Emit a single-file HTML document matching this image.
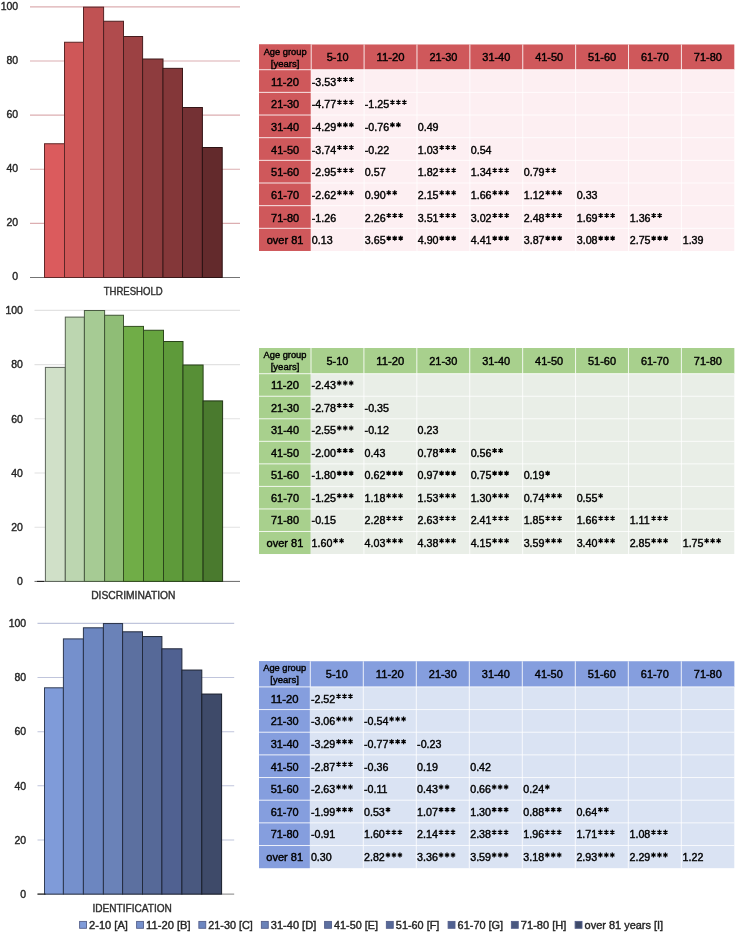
<!DOCTYPE html>
<html><head><meta charset="utf-8"><style>
html,body{margin:0;padding:0;background:#fff;}
svg{display:block;font-family:"Liberation Sans", sans-serif;will-change:transform;}
.t{fill:#000;stroke:#000;stroke-width:0.4px;}
</style></head><body>
<svg width="736" height="932" viewBox="0 0 736 932">
<line x1="30.00" y1="223.37" x2="240.00" y2="223.37" stroke="#dcaeb1" stroke-width="1.1"/>
<line x1="30.00" y1="169.25" x2="240.00" y2="169.25" stroke="#dcaeb1" stroke-width="1.1"/>
<line x1="30.00" y1="115.12" x2="240.00" y2="115.12" stroke="#dcaeb1" stroke-width="1.1"/>
<line x1="30.00" y1="61.00" x2="240.00" y2="61.00" stroke="#dcaeb1" stroke-width="1.1"/>
<line x1="30.00" y1="6.87" x2="240.00" y2="6.87" stroke="#dcaeb1" stroke-width="1.1"/>
<text x="18.20" y="280.40" font-size="10.7" text-anchor="end" fill="#262626" stroke="#262626" stroke-width="0.4" textLength="5.83" lengthAdjust="spacingAndGlyphs">0</text>
<text x="18.20" y="226.27" font-size="10.7" text-anchor="end" fill="#262626" stroke="#262626" stroke-width="0.4" textLength="11.66" lengthAdjust="spacingAndGlyphs">20</text>
<text x="18.20" y="172.15" font-size="10.7" text-anchor="end" fill="#262626" stroke="#262626" stroke-width="0.4" textLength="11.66" lengthAdjust="spacingAndGlyphs">40</text>
<text x="18.20" y="118.02" font-size="10.7" text-anchor="end" fill="#262626" stroke="#262626" stroke-width="0.4" textLength="11.66" lengthAdjust="spacingAndGlyphs">60</text>
<text x="18.20" y="63.90" font-size="10.7" text-anchor="end" fill="#262626" stroke="#262626" stroke-width="0.4" textLength="11.66" lengthAdjust="spacingAndGlyphs">80</text>
<text x="18.20" y="9.77" font-size="10.7" text-anchor="end" fill="#262626" stroke="#262626" stroke-width="0.4" textLength="17.49" lengthAdjust="spacingAndGlyphs">100</text>
<line x1="30.00" y1="277.50" x2="240.00" y2="277.50" stroke="#747474" stroke-width="1"/>
<rect x="44.50" y="143.75" width="20.00" height="133.75" fill="#db5b5d" stroke="#622829" stroke-width="1"/>
<rect x="64.50" y="42.25" width="19.00" height="235.25" fill="#cf5758" stroke="#5d2727" stroke-width="1"/>
<rect x="83.50" y="7.15" width="20.10" height="270.35" fill="#c05253" stroke="#562425" stroke-width="1"/>
<rect x="103.60" y="21.25" width="19.90" height="256.25" fill="#b04b4d" stroke="#4f2122" stroke-width="1"/>
<rect x="123.50" y="36.50" width="19.10" height="241.00" fill="#9c4143" stroke="#461d1e" stroke-width="1"/>
<rect x="142.60" y="59.00" width="20.40" height="218.50" fill="#8e3c3e" stroke="#3f1b1b" stroke-width="1"/>
<rect x="163.00" y="68.35" width="19.50" height="209.15" fill="#843739" stroke="#3b1819" stroke-width="1"/>
<rect x="182.50" y="107.50" width="19.90" height="170.00" fill="#743134" stroke="#341617" stroke-width="1"/>
<rect x="202.40" y="147.50" width="19.80" height="130.00" fill="#632a2c" stroke="#2c1213" stroke-width="1"/>
<text x="133.20" y="295.00" font-size="10.7" text-anchor="middle" fill="#303030" stroke="#303030" stroke-width="0.4" textLength="59.06" lengthAdjust="spacingAndGlyphs">THRESHOLD</text>
<line x1="34.50" y1="527.20" x2="240.00" y2="527.20" stroke="#e2e2e2" stroke-width="1.1"/>
<line x1="34.50" y1="473.00" x2="240.00" y2="473.00" stroke="#e2e2e2" stroke-width="1.1"/>
<line x1="34.50" y1="418.80" x2="240.00" y2="418.80" stroke="#e2e2e2" stroke-width="1.1"/>
<line x1="34.50" y1="364.60" x2="240.00" y2="364.60" stroke="#e2e2e2" stroke-width="1.1"/>
<line x1="34.50" y1="310.40" x2="240.00" y2="310.40" stroke="#e2e2e2" stroke-width="1.1"/>
<text x="22.90" y="585.10" font-size="10.7" text-anchor="end" fill="#262626" stroke="#262626" stroke-width="0.4" textLength="5.83" lengthAdjust="spacingAndGlyphs">0</text>
<text x="22.90" y="530.90" font-size="10.7" text-anchor="end" fill="#262626" stroke="#262626" stroke-width="0.4" textLength="11.66" lengthAdjust="spacingAndGlyphs">20</text>
<text x="22.90" y="476.70" font-size="10.7" text-anchor="end" fill="#262626" stroke="#262626" stroke-width="0.4" textLength="11.66" lengthAdjust="spacingAndGlyphs">40</text>
<text x="22.90" y="422.50" font-size="10.7" text-anchor="end" fill="#262626" stroke="#262626" stroke-width="0.4" textLength="11.66" lengthAdjust="spacingAndGlyphs">60</text>
<text x="22.90" y="368.30" font-size="10.7" text-anchor="end" fill="#262626" stroke="#262626" stroke-width="0.4" textLength="11.66" lengthAdjust="spacingAndGlyphs">80</text>
<text x="22.90" y="314.10" font-size="10.7" text-anchor="end" fill="#262626" stroke="#262626" stroke-width="0.4" textLength="17.49" lengthAdjust="spacingAndGlyphs">100</text>
<line x1="34.50" y1="581.40" x2="240.00" y2="581.40" stroke="#666666" stroke-width="1"/>
<rect x="45.40" y="367.40" width="19.90" height="214.00" fill="#d0e0c8" stroke="#5d645a" stroke-width="1"/>
<rect x="65.30" y="317.10" width="19.10" height="264.30" fill="#bcd6b0" stroke="#54604f" stroke-width="1"/>
<rect x="84.40" y="310.50" width="20.20" height="270.90" fill="#a6cb94" stroke="#4a5b42" stroke-width="1"/>
<rect x="104.60" y="315.25" width="18.90" height="266.15" fill="#8fbd76" stroke="#405535" stroke-width="1"/>
<rect x="123.50" y="326.40" width="20.00" height="255.00" fill="#70ad47" stroke="#324d1f" stroke-width="1"/>
<rect x="143.50" y="330.25" width="20.00" height="251.15" fill="#66a43f" stroke="#2d491c" stroke-width="1"/>
<rect x="163.50" y="341.50" width="19.50" height="239.90" fill="#5e9a3a" stroke="#2a451a" stroke-width="1"/>
<rect x="183.00" y="365.00" width="20.10" height="216.40" fill="#578f36" stroke="#274018" stroke-width="1"/>
<rect x="203.10" y="400.90" width="19.50" height="180.50" fill="#4a7a2e" stroke="#213614" stroke-width="1"/>
<line x1="37.00" y1="581.40" x2="44.00" y2="581.40" stroke="#1a1a1a" stroke-width="1"/>
<text x="133.35" y="598.70" font-size="10.7" text-anchor="middle" fill="#303030" stroke="#303030" stroke-width="0.4" textLength="84.39" lengthAdjust="spacingAndGlyphs">DISCRIMINATION</text>
<line x1="37.50" y1="839.96" x2="234.20" y2="839.96" stroke="#c0c5dc" stroke-width="1.1"/>
<line x1="37.50" y1="785.82" x2="234.20" y2="785.82" stroke="#c0c5dc" stroke-width="1.1"/>
<line x1="37.50" y1="731.68" x2="234.20" y2="731.68" stroke="#c0c5dc" stroke-width="1.1"/>
<line x1="37.50" y1="677.54" x2="234.20" y2="677.54" stroke="#c0c5dc" stroke-width="1.1"/>
<line x1="37.50" y1="623.40" x2="234.20" y2="623.40" stroke="#c0c5dc" stroke-width="1.1"/>
<text x="26.20" y="897.80" font-size="10.7" text-anchor="end" fill="#262626" stroke="#262626" stroke-width="0.4" textLength="5.83" lengthAdjust="spacingAndGlyphs">0</text>
<text x="26.20" y="843.66" font-size="10.7" text-anchor="end" fill="#262626" stroke="#262626" stroke-width="0.4" textLength="11.66" lengthAdjust="spacingAndGlyphs">20</text>
<text x="26.20" y="789.52" font-size="10.7" text-anchor="end" fill="#262626" stroke="#262626" stroke-width="0.4" textLength="11.66" lengthAdjust="spacingAndGlyphs">40</text>
<text x="26.20" y="735.38" font-size="10.7" text-anchor="end" fill="#262626" stroke="#262626" stroke-width="0.4" textLength="11.66" lengthAdjust="spacingAndGlyphs">60</text>
<text x="26.20" y="681.24" font-size="10.7" text-anchor="end" fill="#262626" stroke="#262626" stroke-width="0.4" textLength="11.66" lengthAdjust="spacingAndGlyphs">80</text>
<text x="26.20" y="627.10" font-size="10.7" text-anchor="end" fill="#262626" stroke="#262626" stroke-width="0.4" textLength="17.49" lengthAdjust="spacingAndGlyphs">100</text>
<line x1="37.50" y1="894.10" x2="234.20" y2="894.10" stroke="#808080" stroke-width="1"/>
<rect x="44.50" y="687.80" width="18.90" height="206.30" fill="#7f9bd9" stroke="#323e56" stroke-width="1"/>
<rect x="63.40" y="638.90" width="20.00" height="255.20" fill="#7590cc" stroke="#2e3951" stroke-width="1"/>
<rect x="83.40" y="627.80" width="20.00" height="266.30" fill="#6c86c0" stroke="#2b354c" stroke-width="1"/>
<rect x="103.40" y="623.55" width="19.20" height="270.55" fill="#6a82b8" stroke="#2a3449" stroke-width="1"/>
<rect x="122.60" y="631.80" width="19.90" height="262.30" fill="#5c70a0" stroke="#242c40" stroke-width="1"/>
<rect x="142.50" y="636.55" width="19.40" height="257.55" fill="#566998" stroke="#222a3c" stroke-width="1"/>
<rect x="161.90" y="648.80" width="20.00" height="245.30" fill="#506191" stroke="#20263a" stroke-width="1"/>
<rect x="181.90" y="670.05" width="19.90" height="224.05" fill="#49587f" stroke="#1d2332" stroke-width="1"/>
<rect x="201.80" y="694.05" width="19.80" height="200.05" fill="#3e4a69" stroke="#181d2a" stroke-width="1"/>
<line x1="37.50" y1="894.10" x2="45.50" y2="894.10" stroke="#1a1a1a" stroke-width="1"/>
<text x="132.20" y="911.60" font-size="10.7" text-anchor="middle" fill="#303030" stroke="#303030" stroke-width="0.4" textLength="79.32" lengthAdjust="spacingAndGlyphs">IDENTIFICATION</text>
<rect x="259.00" y="44.50" width="475.30" height="206.48" fill="#fdeff2"/>
<rect x="259.00" y="44.50" width="475.30" height="25.20" fill="#cf585b"/>
<rect x="259.00" y="44.50" width="51.70" height="206.48" fill="#cf585b"/>
<rect x="259.00" y="69.20" width="52.20" height="1" fill="#fff" opacity="0.85"/>
<rect x="311.20" y="69.20" width="423.10" height="1" fill="#fff" opacity="0.85"/>
<rect x="259.00" y="91.86" width="52.20" height="1" fill="#fff" opacity="0.85"/>
<rect x="311.20" y="91.86" width="423.10" height="1" fill="#fff" opacity="0.8"/>
<rect x="259.00" y="114.52" width="52.20" height="1" fill="#fff" opacity="0.85"/>
<rect x="311.20" y="114.52" width="423.10" height="1" fill="#fff" opacity="0.8"/>
<rect x="259.00" y="137.18" width="52.20" height="1" fill="#fff" opacity="0.85"/>
<rect x="311.20" y="137.18" width="423.10" height="1" fill="#fff" opacity="0.8"/>
<rect x="259.00" y="159.84" width="52.20" height="1" fill="#fff" opacity="0.85"/>
<rect x="311.20" y="159.84" width="423.10" height="1" fill="#fff" opacity="0.8"/>
<rect x="259.00" y="182.50" width="52.20" height="1" fill="#fff" opacity="0.85"/>
<rect x="311.20" y="182.50" width="423.10" height="1" fill="#fff" opacity="0.8"/>
<rect x="259.00" y="205.16" width="52.20" height="1" fill="#fff" opacity="0.85"/>
<rect x="311.20" y="205.16" width="423.10" height="1" fill="#fff" opacity="0.8"/>
<rect x="259.00" y="227.82" width="52.20" height="1" fill="#fff" opacity="0.85"/>
<rect x="311.20" y="227.82" width="423.10" height="1" fill="#fff" opacity="0.8"/>
<rect x="310.70" y="44.50" width="1" height="25.20" fill="#fff" opacity="0.85"/>
<rect x="363.59" y="44.50" width="1" height="25.20" fill="#fff" opacity="0.85"/>
<rect x="363.59" y="69.70" width="1" height="181.28" fill="#fff" opacity="0.8"/>
<rect x="416.47" y="44.50" width="1" height="25.20" fill="#fff" opacity="0.85"/>
<rect x="416.47" y="69.70" width="1" height="181.28" fill="#fff" opacity="0.8"/>
<rect x="469.36" y="44.50" width="1" height="25.20" fill="#fff" opacity="0.85"/>
<rect x="469.36" y="69.70" width="1" height="181.28" fill="#fff" opacity="0.8"/>
<rect x="522.25" y="44.50" width="1" height="25.20" fill="#fff" opacity="0.85"/>
<rect x="522.25" y="69.70" width="1" height="181.28" fill="#fff" opacity="0.8"/>
<rect x="575.14" y="44.50" width="1" height="25.20" fill="#fff" opacity="0.85"/>
<rect x="575.14" y="69.70" width="1" height="181.28" fill="#fff" opacity="0.8"/>
<rect x="628.02" y="44.50" width="1" height="25.20" fill="#fff" opacity="0.85"/>
<rect x="628.02" y="69.70" width="1" height="181.28" fill="#fff" opacity="0.8"/>
<rect x="680.91" y="44.50" width="1" height="25.20" fill="#fff" opacity="0.85"/>
<rect x="680.91" y="69.70" width="1" height="181.28" fill="#fff" opacity="0.8"/>
<text x="337.64" y="60.90" font-size="10.7" text-anchor="middle" fill="#000" stroke="#000" stroke-width="0.4" textLength="21.92" lengthAdjust="spacingAndGlyphs">5-10</text>
<text x="390.53" y="60.90" font-size="10.7" text-anchor="middle" fill="#000" stroke="#000" stroke-width="0.4" textLength="28.00" lengthAdjust="spacingAndGlyphs">11-20</text>
<text x="443.42" y="60.90" font-size="10.7" text-anchor="middle" fill="#000" stroke="#000" stroke-width="0.4" textLength="28.00" lengthAdjust="spacingAndGlyphs">21-30</text>
<text x="496.31" y="60.90" font-size="10.7" text-anchor="middle" fill="#000" stroke="#000" stroke-width="0.4" textLength="28.00" lengthAdjust="spacingAndGlyphs">31-40</text>
<text x="549.19" y="60.90" font-size="10.7" text-anchor="middle" fill="#000" stroke="#000" stroke-width="0.4" textLength="28.00" lengthAdjust="spacingAndGlyphs">41-50</text>
<text x="602.08" y="60.90" font-size="10.7" text-anchor="middle" fill="#000" stroke="#000" stroke-width="0.4" textLength="28.00" lengthAdjust="spacingAndGlyphs">51-60</text>
<text x="654.97" y="60.90" font-size="10.7" text-anchor="middle" fill="#000" stroke="#000" stroke-width="0.4" textLength="28.00" lengthAdjust="spacingAndGlyphs">61-70</text>
<text x="707.86" y="60.90" font-size="10.7" text-anchor="middle" fill="#000" stroke="#000" stroke-width="0.4" textLength="28.00" lengthAdjust="spacingAndGlyphs">71-80</text>
<text x="285.10" y="54.50" font-size="9.3" text-anchor="middle" fill="#000" stroke="#000" stroke-width="0.4" textLength="42.95" lengthAdjust="spacingAndGlyphs">Age group</text>
<text x="285.10" y="66.50" font-size="9.3" text-anchor="middle" fill="#000" stroke="#000" stroke-width="0.4" textLength="28.59" lengthAdjust="spacingAndGlyphs">[years]</text>
<text x="285.10" y="85.73" font-size="10.7" text-anchor="middle" fill="#000" stroke="#000" stroke-width="0.4" textLength="28.00" lengthAdjust="spacingAndGlyphs">11-20</text>
<text x="311.80" y="85.73" font-size="10.7" class="t">-3.53</text>
<path d="M339.43 77.03V82.03M337.27 78.28L341.60 80.78M337.27 80.78L341.60 78.28" stroke="#000" stroke-width="1.25" fill="none"/>
<path d="M345.40 77.03V82.03M343.24 78.28L347.57 80.78M343.24 80.78L347.57 78.28" stroke="#000" stroke-width="1.25" fill="none"/>
<path d="M351.37 77.03V82.03M349.21 78.28L353.54 80.78M349.21 80.78L353.54 78.28" stroke="#000" stroke-width="1.25" fill="none"/>
<text x="285.10" y="108.39" font-size="10.7" text-anchor="middle" fill="#000" stroke="#000" stroke-width="0.4" textLength="28.00" lengthAdjust="spacingAndGlyphs">21-30</text>
<text x="311.80" y="108.39" font-size="10.7" class="t">-4.77</text>
<path d="M339.43 99.69V104.69M337.27 100.94L341.60 103.44M337.27 103.44L341.60 100.94" stroke="#000" stroke-width="1.25" fill="none"/>
<path d="M345.40 99.69V104.69M343.24 100.94L347.57 103.44M343.24 103.44L347.57 100.94" stroke="#000" stroke-width="1.25" fill="none"/>
<path d="M351.37 99.69V104.69M349.21 100.94L353.54 103.44M349.21 103.44L353.54 100.94" stroke="#000" stroke-width="1.25" fill="none"/>
<text x="364.79" y="108.39" font-size="10.7" class="t">-1.25</text>
<path d="M392.42 99.69V104.69M390.26 100.94L394.59 103.44M390.26 103.44L394.59 100.94" stroke="#000" stroke-width="1.25" fill="none"/>
<path d="M398.39 99.69V104.69M396.23 100.94L400.56 103.44M396.23 103.44L400.56 100.94" stroke="#000" stroke-width="1.25" fill="none"/>
<path d="M404.36 99.69V104.69M402.20 100.94L406.53 103.44M402.20 103.44L406.53 100.94" stroke="#000" stroke-width="1.25" fill="none"/>
<text x="285.10" y="131.05" font-size="10.7" text-anchor="middle" fill="#000" stroke="#000" stroke-width="0.4" textLength="28.00" lengthAdjust="spacingAndGlyphs">31-40</text>
<text x="311.80" y="131.05" font-size="10.7" class="t">-4.29</text>
<path d="M339.43 122.35V127.35M337.27 123.60L341.60 126.10M337.27 126.10L341.60 123.60" stroke="#000" stroke-width="1.25" fill="none"/>
<path d="M345.40 122.35V127.35M343.24 123.60L347.57 126.10M343.24 126.10L347.57 123.60" stroke="#000" stroke-width="1.25" fill="none"/>
<path d="M351.37 122.35V127.35M349.21 123.60L353.54 126.10M349.21 126.10L353.54 123.60" stroke="#000" stroke-width="1.25" fill="none"/>
<text x="364.79" y="131.05" font-size="10.7" class="t">-0.76</text>
<path d="M392.42 122.35V127.35M390.26 123.60L394.59 126.10M390.26 126.10L394.59 123.60" stroke="#000" stroke-width="1.25" fill="none"/>
<path d="M398.39 122.35V127.35M396.23 123.60L400.56 126.10M396.23 126.10L400.56 123.60" stroke="#000" stroke-width="1.25" fill="none"/>
<text x="417.77" y="131.05" font-size="10.7" class="t">0.49</text>
<text x="285.10" y="153.71" font-size="10.7" text-anchor="middle" fill="#000" stroke="#000" stroke-width="0.4" textLength="28.00" lengthAdjust="spacingAndGlyphs">41-50</text>
<text x="311.80" y="153.71" font-size="10.7" class="t">-3.74</text>
<path d="M339.43 145.01V150.01M337.27 146.26L341.60 148.76M337.27 148.76L341.60 146.26" stroke="#000" stroke-width="1.25" fill="none"/>
<path d="M345.40 145.01V150.01M343.24 146.26L347.57 148.76M343.24 148.76L347.57 146.26" stroke="#000" stroke-width="1.25" fill="none"/>
<path d="M351.37 145.01V150.01M349.21 146.26L353.54 148.76M349.21 148.76L353.54 146.26" stroke="#000" stroke-width="1.25" fill="none"/>
<text x="364.79" y="153.71" font-size="10.7" class="t">-0.22</text>
<text x="417.77" y="153.71" font-size="10.7" class="t">1.03</text>
<path d="M441.74 145.01V150.01M439.57 146.26L443.90 148.76M439.57 148.76L443.90 146.26" stroke="#000" stroke-width="1.25" fill="none"/>
<path d="M447.71 145.01V150.01M445.54 146.26L449.87 148.76M445.54 148.76L449.87 146.26" stroke="#000" stroke-width="1.25" fill="none"/>
<path d="M453.68 145.01V150.01M451.51 146.26L455.84 148.76M451.51 148.76L455.84 146.26" stroke="#000" stroke-width="1.25" fill="none"/>
<text x="470.76" y="153.71" font-size="10.7" class="t">0.54</text>
<text x="285.10" y="176.37" font-size="10.7" text-anchor="middle" fill="#000" stroke="#000" stroke-width="0.4" textLength="28.00" lengthAdjust="spacingAndGlyphs">51-60</text>
<text x="311.80" y="176.37" font-size="10.7" class="t">-2.95</text>
<path d="M339.43 167.67V172.67M337.27 168.92L341.60 171.42M337.27 171.42L341.60 168.92" stroke="#000" stroke-width="1.25" fill="none"/>
<path d="M345.40 167.67V172.67M343.24 168.92L347.57 171.42M343.24 171.42L347.57 168.92" stroke="#000" stroke-width="1.25" fill="none"/>
<path d="M351.37 167.67V172.67M349.21 168.92L353.54 171.42M349.21 171.42L353.54 168.92" stroke="#000" stroke-width="1.25" fill="none"/>
<text x="364.79" y="176.37" font-size="10.7" class="t">0.57</text>
<text x="417.77" y="176.37" font-size="10.7" class="t">1.82</text>
<path d="M441.74 167.67V172.67M439.57 168.92L443.90 171.42M439.57 171.42L443.90 168.92" stroke="#000" stroke-width="1.25" fill="none"/>
<path d="M447.71 167.67V172.67M445.54 168.92L449.87 171.42M445.54 171.42L449.87 168.92" stroke="#000" stroke-width="1.25" fill="none"/>
<path d="M453.68 167.67V172.67M451.51 168.92L455.84 171.42M451.51 171.42L455.84 168.92" stroke="#000" stroke-width="1.25" fill="none"/>
<text x="470.76" y="176.37" font-size="10.7" class="t">1.34</text>
<path d="M494.72 167.67V172.67M492.56 168.92L496.89 171.42M492.56 171.42L496.89 168.92" stroke="#000" stroke-width="1.25" fill="none"/>
<path d="M500.69 167.67V172.67M498.53 168.92L502.86 171.42M498.53 171.42L502.86 168.92" stroke="#000" stroke-width="1.25" fill="none"/>
<path d="M506.66 167.67V172.67M504.50 168.92L508.83 171.42M504.50 171.42L508.83 168.92" stroke="#000" stroke-width="1.25" fill="none"/>
<text x="523.75" y="176.37" font-size="10.7" class="t">0.79</text>
<path d="M547.71 167.67V172.67M545.55 168.92L549.88 171.42M545.55 171.42L549.88 168.92" stroke="#000" stroke-width="1.25" fill="none"/>
<path d="M553.68 167.67V172.67M551.52 168.92L555.85 171.42M551.52 171.42L555.85 168.92" stroke="#000" stroke-width="1.25" fill="none"/>
<text x="285.10" y="199.03" font-size="10.7" text-anchor="middle" fill="#000" stroke="#000" stroke-width="0.4" textLength="28.00" lengthAdjust="spacingAndGlyphs">61-70</text>
<text x="311.80" y="199.03" font-size="10.7" class="t">-2.62</text>
<path d="M339.43 190.33V195.33M337.27 191.58L341.60 194.08M337.27 194.08L341.60 191.58" stroke="#000" stroke-width="1.25" fill="none"/>
<path d="M345.40 190.33V195.33M343.24 191.58L347.57 194.08M343.24 194.08L347.57 191.58" stroke="#000" stroke-width="1.25" fill="none"/>
<path d="M351.37 190.33V195.33M349.21 191.58L353.54 194.08M349.21 194.08L353.54 191.58" stroke="#000" stroke-width="1.25" fill="none"/>
<text x="364.79" y="199.03" font-size="10.7" class="t">0.90</text>
<path d="M388.75 190.33V195.33M386.58 191.58L390.91 194.08M386.58 194.08L390.91 191.58" stroke="#000" stroke-width="1.25" fill="none"/>
<path d="M394.72 190.33V195.33M392.55 191.58L396.88 194.08M392.55 194.08L396.88 191.58" stroke="#000" stroke-width="1.25" fill="none"/>
<text x="417.77" y="199.03" font-size="10.7" class="t">2.15</text>
<path d="M441.74 190.33V195.33M439.57 191.58L443.90 194.08M439.57 194.08L443.90 191.58" stroke="#000" stroke-width="1.25" fill="none"/>
<path d="M447.71 190.33V195.33M445.54 191.58L449.87 194.08M445.54 194.08L449.87 191.58" stroke="#000" stroke-width="1.25" fill="none"/>
<path d="M453.68 190.33V195.33M451.51 191.58L455.84 194.08M451.51 194.08L455.84 191.58" stroke="#000" stroke-width="1.25" fill="none"/>
<text x="470.76" y="199.03" font-size="10.7" class="t">1.66</text>
<path d="M494.72 190.33V195.33M492.56 191.58L496.89 194.08M492.56 194.08L496.89 191.58" stroke="#000" stroke-width="1.25" fill="none"/>
<path d="M500.69 190.33V195.33M498.53 191.58L502.86 194.08M498.53 194.08L502.86 191.58" stroke="#000" stroke-width="1.25" fill="none"/>
<path d="M506.66 190.33V195.33M504.50 191.58L508.83 194.08M504.50 194.08L508.83 191.58" stroke="#000" stroke-width="1.25" fill="none"/>
<text x="523.75" y="199.03" font-size="10.7" class="t">1.12</text>
<path d="M547.71 190.33V195.33M545.55 191.58L549.88 194.08M545.55 194.08L549.88 191.58" stroke="#000" stroke-width="1.25" fill="none"/>
<path d="M553.68 190.33V195.33M551.52 191.58L555.85 194.08M551.52 194.08L555.85 191.58" stroke="#000" stroke-width="1.25" fill="none"/>
<path d="M559.65 190.33V195.33M557.49 191.58L561.82 194.08M557.49 194.08L561.82 191.58" stroke="#000" stroke-width="1.25" fill="none"/>
<text x="576.74" y="199.03" font-size="10.7" class="t">0.33</text>
<text x="285.10" y="221.69" font-size="10.7" text-anchor="middle" fill="#000" stroke="#000" stroke-width="0.4" textLength="28.00" lengthAdjust="spacingAndGlyphs">71-80</text>
<text x="311.80" y="221.69" font-size="10.7" class="t">-1.26</text>
<text x="364.79" y="221.69" font-size="10.7" class="t">2.26</text>
<path d="M388.75 212.99V217.99M386.58 214.24L390.91 216.74M386.58 216.74L390.91 214.24" stroke="#000" stroke-width="1.25" fill="none"/>
<path d="M394.72 212.99V217.99M392.55 214.24L396.88 216.74M392.55 216.74L396.88 214.24" stroke="#000" stroke-width="1.25" fill="none"/>
<path d="M400.69 212.99V217.99M398.52 214.24L402.85 216.74M398.52 216.74L402.85 214.24" stroke="#000" stroke-width="1.25" fill="none"/>
<text x="417.77" y="221.69" font-size="10.7" class="t">3.51</text>
<path d="M441.74 212.99V217.99M439.57 214.24L443.90 216.74M439.57 216.74L443.90 214.24" stroke="#000" stroke-width="1.25" fill="none"/>
<path d="M447.71 212.99V217.99M445.54 214.24L449.87 216.74M445.54 216.74L449.87 214.24" stroke="#000" stroke-width="1.25" fill="none"/>
<path d="M453.68 212.99V217.99M451.51 214.24L455.84 216.74M451.51 216.74L455.84 214.24" stroke="#000" stroke-width="1.25" fill="none"/>
<text x="470.76" y="221.69" font-size="10.7" class="t">3.02</text>
<path d="M494.72 212.99V217.99M492.56 214.24L496.89 216.74M492.56 216.74L496.89 214.24" stroke="#000" stroke-width="1.25" fill="none"/>
<path d="M500.69 212.99V217.99M498.53 214.24L502.86 216.74M498.53 216.74L502.86 214.24" stroke="#000" stroke-width="1.25" fill="none"/>
<path d="M506.66 212.99V217.99M504.50 214.24L508.83 216.74M504.50 216.74L508.83 214.24" stroke="#000" stroke-width="1.25" fill="none"/>
<text x="523.75" y="221.69" font-size="10.7" class="t">2.48</text>
<path d="M547.71 212.99V217.99M545.55 214.24L549.88 216.74M545.55 216.74L549.88 214.24" stroke="#000" stroke-width="1.25" fill="none"/>
<path d="M553.68 212.99V217.99M551.52 214.24L555.85 216.74M551.52 216.74L555.85 214.24" stroke="#000" stroke-width="1.25" fill="none"/>
<path d="M559.65 212.99V217.99M557.49 214.24L561.82 216.74M557.49 216.74L561.82 214.24" stroke="#000" stroke-width="1.25" fill="none"/>
<text x="576.74" y="221.69" font-size="10.7" class="t">1.69</text>
<path d="M600.70 212.99V217.99M598.53 214.24L602.86 216.74M598.53 216.74L602.86 214.24" stroke="#000" stroke-width="1.25" fill="none"/>
<path d="M606.67 212.99V217.99M604.50 214.24L608.83 216.74M604.50 216.74L608.83 214.24" stroke="#000" stroke-width="1.25" fill="none"/>
<path d="M612.64 212.99V217.99M610.47 214.24L614.80 216.74M610.47 216.74L614.80 214.24" stroke="#000" stroke-width="1.25" fill="none"/>
<text x="629.73" y="221.69" font-size="10.7" class="t">1.36</text>
<path d="M653.69 212.99V217.99M651.52 214.24L655.85 216.74M651.52 216.74L655.85 214.24" stroke="#000" stroke-width="1.25" fill="none"/>
<path d="M659.66 212.99V217.99M657.49 214.24L661.82 216.74M657.49 216.74L661.82 214.24" stroke="#000" stroke-width="1.25" fill="none"/>
<text x="285.10" y="244.35" font-size="10.7" text-anchor="middle" fill="#000" stroke="#000" stroke-width="0.4" textLength="36.79" lengthAdjust="spacingAndGlyphs">over 81</text>
<text x="311.80" y="244.35" font-size="10.7" class="t">0.13</text>
<text x="364.79" y="244.35" font-size="10.7" class="t">3.65</text>
<path d="M388.75 235.65V240.65M386.58 236.90L390.91 239.40M386.58 239.40L390.91 236.90" stroke="#000" stroke-width="1.25" fill="none"/>
<path d="M394.72 235.65V240.65M392.55 236.90L396.88 239.40M392.55 239.40L396.88 236.90" stroke="#000" stroke-width="1.25" fill="none"/>
<path d="M400.69 235.65V240.65M398.52 236.90L402.85 239.40M398.52 239.40L402.85 236.90" stroke="#000" stroke-width="1.25" fill="none"/>
<text x="417.77" y="244.35" font-size="10.7" class="t">4.90</text>
<path d="M441.74 235.65V240.65M439.57 236.90L443.90 239.40M439.57 239.40L443.90 236.90" stroke="#000" stroke-width="1.25" fill="none"/>
<path d="M447.71 235.65V240.65M445.54 236.90L449.87 239.40M445.54 239.40L449.87 236.90" stroke="#000" stroke-width="1.25" fill="none"/>
<path d="M453.68 235.65V240.65M451.51 236.90L455.84 239.40M451.51 239.40L455.84 236.90" stroke="#000" stroke-width="1.25" fill="none"/>
<text x="470.76" y="244.35" font-size="10.7" class="t">4.41</text>
<path d="M494.72 235.65V240.65M492.56 236.90L496.89 239.40M492.56 239.40L496.89 236.90" stroke="#000" stroke-width="1.25" fill="none"/>
<path d="M500.69 235.65V240.65M498.53 236.90L502.86 239.40M498.53 239.40L502.86 236.90" stroke="#000" stroke-width="1.25" fill="none"/>
<path d="M506.66 235.65V240.65M504.50 236.90L508.83 239.40M504.50 239.40L508.83 236.90" stroke="#000" stroke-width="1.25" fill="none"/>
<text x="523.75" y="244.35" font-size="10.7" class="t">3.87</text>
<path d="M547.71 235.65V240.65M545.55 236.90L549.88 239.40M545.55 239.40L549.88 236.90" stroke="#000" stroke-width="1.25" fill="none"/>
<path d="M553.68 235.65V240.65M551.52 236.90L555.85 239.40M551.52 239.40L555.85 236.90" stroke="#000" stroke-width="1.25" fill="none"/>
<path d="M559.65 235.65V240.65M557.49 236.90L561.82 239.40M557.49 239.40L561.82 236.90" stroke="#000" stroke-width="1.25" fill="none"/>
<text x="576.74" y="244.35" font-size="10.7" class="t">3.08</text>
<path d="M600.70 235.65V240.65M598.53 236.90L602.86 239.40M598.53 239.40L602.86 236.90" stroke="#000" stroke-width="1.25" fill="none"/>
<path d="M606.67 235.65V240.65M604.50 236.90L608.83 239.40M604.50 239.40L608.83 236.90" stroke="#000" stroke-width="1.25" fill="none"/>
<path d="M612.64 235.65V240.65M610.47 236.90L614.80 239.40M610.47 239.40L614.80 236.90" stroke="#000" stroke-width="1.25" fill="none"/>
<text x="629.73" y="244.35" font-size="10.7" class="t">2.75</text>
<path d="M653.69 235.65V240.65M651.52 236.90L655.85 239.40M651.52 239.40L655.85 236.90" stroke="#000" stroke-width="1.25" fill="none"/>
<path d="M659.66 235.65V240.65M657.49 236.90L661.82 239.40M657.49 239.40L661.82 236.90" stroke="#000" stroke-width="1.25" fill="none"/>
<path d="M665.63 235.65V240.65M663.46 236.90L667.79 239.40M663.46 239.40L667.79 236.90" stroke="#000" stroke-width="1.25" fill="none"/>
<text x="682.71" y="244.35" font-size="10.7" class="t">1.39</text>
<rect x="259.00" y="348.00" width="475.30" height="206.02" fill="#e9eee7"/>
<rect x="259.00" y="348.00" width="475.30" height="25.70" fill="#a8d08d"/>
<rect x="259.00" y="348.00" width="51.50" height="206.02" fill="#a8d08d"/>
<rect x="259.00" y="373.20" width="52.00" height="1" fill="#fff" opacity="0.85"/>
<rect x="311.00" y="373.20" width="423.30" height="1" fill="#fff" opacity="0.85"/>
<rect x="259.00" y="395.74" width="52.00" height="1" fill="#fff" opacity="0.85"/>
<rect x="311.00" y="395.74" width="423.30" height="1" fill="#fff" opacity="0.8"/>
<rect x="259.00" y="418.28" width="52.00" height="1" fill="#fff" opacity="0.85"/>
<rect x="311.00" y="418.28" width="423.30" height="1" fill="#fff" opacity="0.8"/>
<rect x="259.00" y="440.82" width="52.00" height="1" fill="#fff" opacity="0.85"/>
<rect x="311.00" y="440.82" width="423.30" height="1" fill="#fff" opacity="0.8"/>
<rect x="259.00" y="463.36" width="52.00" height="1" fill="#fff" opacity="0.85"/>
<rect x="311.00" y="463.36" width="423.30" height="1" fill="#fff" opacity="0.8"/>
<rect x="259.00" y="485.90" width="52.00" height="1" fill="#fff" opacity="0.85"/>
<rect x="311.00" y="485.90" width="423.30" height="1" fill="#fff" opacity="0.8"/>
<rect x="259.00" y="508.44" width="52.00" height="1" fill="#fff" opacity="0.85"/>
<rect x="311.00" y="508.44" width="423.30" height="1" fill="#fff" opacity="0.8"/>
<rect x="259.00" y="530.98" width="52.00" height="1" fill="#fff" opacity="0.85"/>
<rect x="311.00" y="530.98" width="423.30" height="1" fill="#fff" opacity="0.8"/>
<rect x="310.50" y="348.00" width="1" height="25.70" fill="#fff" opacity="0.85"/>
<rect x="363.41" y="348.00" width="1" height="25.70" fill="#fff" opacity="0.85"/>
<rect x="363.41" y="373.70" width="1" height="180.32" fill="#fff" opacity="0.8"/>
<rect x="416.32" y="348.00" width="1" height="25.70" fill="#fff" opacity="0.85"/>
<rect x="416.32" y="373.70" width="1" height="180.32" fill="#fff" opacity="0.8"/>
<rect x="469.24" y="348.00" width="1" height="25.70" fill="#fff" opacity="0.85"/>
<rect x="469.24" y="373.70" width="1" height="180.32" fill="#fff" opacity="0.8"/>
<rect x="522.15" y="348.00" width="1" height="25.70" fill="#fff" opacity="0.85"/>
<rect x="522.15" y="373.70" width="1" height="180.32" fill="#fff" opacity="0.8"/>
<rect x="575.06" y="348.00" width="1" height="25.70" fill="#fff" opacity="0.85"/>
<rect x="575.06" y="373.70" width="1" height="180.32" fill="#fff" opacity="0.8"/>
<rect x="627.97" y="348.00" width="1" height="25.70" fill="#fff" opacity="0.85"/>
<rect x="627.97" y="373.70" width="1" height="180.32" fill="#fff" opacity="0.8"/>
<rect x="680.89" y="348.00" width="1" height="25.70" fill="#fff" opacity="0.85"/>
<rect x="680.89" y="373.70" width="1" height="180.32" fill="#fff" opacity="0.8"/>
<text x="337.46" y="364.65" font-size="10.7" text-anchor="middle" fill="#000" stroke="#000" stroke-width="0.4" textLength="21.92" lengthAdjust="spacingAndGlyphs">5-10</text>
<text x="390.37" y="364.65" font-size="10.7" text-anchor="middle" fill="#000" stroke="#000" stroke-width="0.4" textLength="28.00" lengthAdjust="spacingAndGlyphs">11-20</text>
<text x="443.28" y="364.65" font-size="10.7" text-anchor="middle" fill="#000" stroke="#000" stroke-width="0.4" textLength="28.00" lengthAdjust="spacingAndGlyphs">21-30</text>
<text x="496.19" y="364.65" font-size="10.7" text-anchor="middle" fill="#000" stroke="#000" stroke-width="0.4" textLength="28.00" lengthAdjust="spacingAndGlyphs">31-40</text>
<text x="549.11" y="364.65" font-size="10.7" text-anchor="middle" fill="#000" stroke="#000" stroke-width="0.4" textLength="28.00" lengthAdjust="spacingAndGlyphs">41-50</text>
<text x="602.02" y="364.65" font-size="10.7" text-anchor="middle" fill="#000" stroke="#000" stroke-width="0.4" textLength="28.00" lengthAdjust="spacingAndGlyphs">51-60</text>
<text x="654.93" y="364.65" font-size="10.7" text-anchor="middle" fill="#000" stroke="#000" stroke-width="0.4" textLength="28.00" lengthAdjust="spacingAndGlyphs">61-70</text>
<text x="707.84" y="364.65" font-size="10.7" text-anchor="middle" fill="#000" stroke="#000" stroke-width="0.4" textLength="28.00" lengthAdjust="spacingAndGlyphs">71-80</text>
<text x="285.00" y="358.00" font-size="9.3" text-anchor="middle" fill="#000" stroke="#000" stroke-width="0.4" textLength="42.95" lengthAdjust="spacingAndGlyphs">Age group</text>
<text x="285.00" y="370.00" font-size="9.3" text-anchor="middle" fill="#000" stroke="#000" stroke-width="0.4" textLength="28.59" lengthAdjust="spacingAndGlyphs">[years]</text>
<text x="285.00" y="389.17" font-size="10.7" text-anchor="middle" fill="#000" stroke="#000" stroke-width="0.4" textLength="28.00" lengthAdjust="spacingAndGlyphs">11-20</text>
<text x="311.60" y="389.17" font-size="10.7" class="t">-2.43</text>
<path d="M339.23 380.47V385.47M337.07 381.72L341.40 384.22M337.07 384.22L341.40 381.72" stroke="#000" stroke-width="1.25" fill="none"/>
<path d="M345.20 380.47V385.47M343.04 381.72L347.37 384.22M343.04 384.22L347.37 381.72" stroke="#000" stroke-width="1.25" fill="none"/>
<path d="M351.17 380.47V385.47M349.01 381.72L353.34 384.22M349.01 384.22L353.34 381.72" stroke="#000" stroke-width="1.25" fill="none"/>
<text x="285.00" y="411.71" font-size="10.7" text-anchor="middle" fill="#000" stroke="#000" stroke-width="0.4" textLength="28.00" lengthAdjust="spacingAndGlyphs">21-30</text>
<text x="311.60" y="411.71" font-size="10.7" class="t">-2.78</text>
<path d="M339.23 403.01V408.01M337.07 404.26L341.40 406.76M337.07 406.76L341.40 404.26" stroke="#000" stroke-width="1.25" fill="none"/>
<path d="M345.20 403.01V408.01M343.04 404.26L347.37 406.76M343.04 406.76L347.37 404.26" stroke="#000" stroke-width="1.25" fill="none"/>
<path d="M351.17 403.01V408.01M349.01 404.26L353.34 406.76M349.01 406.76L353.34 404.26" stroke="#000" stroke-width="1.25" fill="none"/>
<text x="364.61" y="411.71" font-size="10.7" class="t">-0.35</text>
<text x="285.00" y="434.25" font-size="10.7" text-anchor="middle" fill="#000" stroke="#000" stroke-width="0.4" textLength="28.00" lengthAdjust="spacingAndGlyphs">31-40</text>
<text x="311.60" y="434.25" font-size="10.7" class="t">-2.55</text>
<path d="M339.23 425.55V430.55M337.07 426.80L341.40 429.30M337.07 429.30L341.40 426.80" stroke="#000" stroke-width="1.25" fill="none"/>
<path d="M345.20 425.55V430.55M343.04 426.80L347.37 429.30M343.04 429.30L347.37 426.80" stroke="#000" stroke-width="1.25" fill="none"/>
<path d="M351.17 425.55V430.55M349.01 426.80L353.34 429.30M349.01 429.30L353.34 426.80" stroke="#000" stroke-width="1.25" fill="none"/>
<text x="364.61" y="434.25" font-size="10.7" class="t">-0.12</text>
<text x="417.62" y="434.25" font-size="10.7" class="t">0.23</text>
<text x="285.00" y="456.79" font-size="10.7" text-anchor="middle" fill="#000" stroke="#000" stroke-width="0.4" textLength="28.00" lengthAdjust="spacingAndGlyphs">41-50</text>
<text x="311.60" y="456.79" font-size="10.7" class="t">-2.00</text>
<path d="M339.23 448.09V453.09M337.07 449.34L341.40 451.84M337.07 451.84L341.40 449.34" stroke="#000" stroke-width="1.25" fill="none"/>
<path d="M345.20 448.09V453.09M343.04 449.34L347.37 451.84M343.04 451.84L347.37 449.34" stroke="#000" stroke-width="1.25" fill="none"/>
<path d="M351.17 448.09V453.09M349.01 449.34L353.34 451.84M349.01 451.84L353.34 449.34" stroke="#000" stroke-width="1.25" fill="none"/>
<text x="364.61" y="456.79" font-size="10.7" class="t">0.43</text>
<text x="417.62" y="456.79" font-size="10.7" class="t">0.78</text>
<path d="M441.59 448.09V453.09M439.42 449.34L443.75 451.84M439.42 451.84L443.75 449.34" stroke="#000" stroke-width="1.25" fill="none"/>
<path d="M447.56 448.09V453.09M445.39 449.34L449.72 451.84M445.39 451.84L449.72 449.34" stroke="#000" stroke-width="1.25" fill="none"/>
<path d="M453.53 448.09V453.09M451.36 449.34L455.69 451.84M451.36 451.84L455.69 449.34" stroke="#000" stroke-width="1.25" fill="none"/>
<text x="470.64" y="456.79" font-size="10.7" class="t">0.56</text>
<path d="M494.60 448.09V453.09M492.43 449.34L496.76 451.84M492.43 451.84L496.76 449.34" stroke="#000" stroke-width="1.25" fill="none"/>
<path d="M500.57 448.09V453.09M498.40 449.34L502.73 451.84M498.40 451.84L502.73 449.34" stroke="#000" stroke-width="1.25" fill="none"/>
<text x="285.00" y="479.33" font-size="10.7" text-anchor="middle" fill="#000" stroke="#000" stroke-width="0.4" textLength="28.00" lengthAdjust="spacingAndGlyphs">51-60</text>
<text x="311.60" y="479.33" font-size="10.7" class="t">-1.80</text>
<path d="M339.23 470.63V475.63M337.07 471.88L341.40 474.38M337.07 474.38L341.40 471.88" stroke="#000" stroke-width="1.25" fill="none"/>
<path d="M345.20 470.63V475.63M343.04 471.88L347.37 474.38M343.04 474.38L347.37 471.88" stroke="#000" stroke-width="1.25" fill="none"/>
<path d="M351.17 470.63V475.63M349.01 471.88L353.34 474.38M349.01 474.38L353.34 471.88" stroke="#000" stroke-width="1.25" fill="none"/>
<text x="364.61" y="479.33" font-size="10.7" class="t">0.62</text>
<path d="M388.57 470.63V475.63M386.41 471.88L390.74 474.38M386.41 474.38L390.74 471.88" stroke="#000" stroke-width="1.25" fill="none"/>
<path d="M394.54 470.63V475.63M392.38 471.88L396.71 474.38M392.38 474.38L396.71 471.88" stroke="#000" stroke-width="1.25" fill="none"/>
<path d="M400.51 470.63V475.63M398.35 471.88L402.68 474.38M398.35 474.38L402.68 471.88" stroke="#000" stroke-width="1.25" fill="none"/>
<text x="417.62" y="479.33" font-size="10.7" class="t">0.97</text>
<path d="M441.59 470.63V475.63M439.42 471.88L443.75 474.38M439.42 474.38L443.75 471.88" stroke="#000" stroke-width="1.25" fill="none"/>
<path d="M447.56 470.63V475.63M445.39 471.88L449.72 474.38M445.39 474.38L449.72 471.88" stroke="#000" stroke-width="1.25" fill="none"/>
<path d="M453.53 470.63V475.63M451.36 471.88L455.69 474.38M451.36 474.38L455.69 471.88" stroke="#000" stroke-width="1.25" fill="none"/>
<text x="470.64" y="479.33" font-size="10.7" class="t">0.75</text>
<path d="M494.60 470.63V475.63M492.43 471.88L496.76 474.38M492.43 474.38L496.76 471.88" stroke="#000" stroke-width="1.25" fill="none"/>
<path d="M500.57 470.63V475.63M498.40 471.88L502.73 474.38M498.40 474.38L502.73 471.88" stroke="#000" stroke-width="1.25" fill="none"/>
<path d="M506.54 470.63V475.63M504.37 471.88L508.70 474.38M504.37 474.38L508.70 471.88" stroke="#000" stroke-width="1.25" fill="none"/>
<text x="523.65" y="479.33" font-size="10.7" class="t">0.19</text>
<path d="M547.61 470.63V475.63M545.45 471.88L549.78 474.38M545.45 474.38L549.78 471.88" stroke="#000" stroke-width="1.25" fill="none"/>
<text x="285.00" y="501.87" font-size="10.7" text-anchor="middle" fill="#000" stroke="#000" stroke-width="0.4" textLength="28.00" lengthAdjust="spacingAndGlyphs">61-70</text>
<text x="311.60" y="501.87" font-size="10.7" class="t">-1.25</text>
<path d="M339.23 493.17V498.17M337.07 494.42L341.40 496.92M337.07 496.92L341.40 494.42" stroke="#000" stroke-width="1.25" fill="none"/>
<path d="M345.20 493.17V498.17M343.04 494.42L347.37 496.92M343.04 496.92L347.37 494.42" stroke="#000" stroke-width="1.25" fill="none"/>
<path d="M351.17 493.17V498.17M349.01 494.42L353.34 496.92M349.01 496.92L353.34 494.42" stroke="#000" stroke-width="1.25" fill="none"/>
<text x="364.61" y="501.87" font-size="10.7" class="t">1.18</text>
<path d="M388.57 493.17V498.17M386.41 494.42L390.74 496.92M386.41 496.92L390.74 494.42" stroke="#000" stroke-width="1.25" fill="none"/>
<path d="M394.54 493.17V498.17M392.38 494.42L396.71 496.92M392.38 496.92L396.71 494.42" stroke="#000" stroke-width="1.25" fill="none"/>
<path d="M400.51 493.17V498.17M398.35 494.42L402.68 496.92M398.35 496.92L402.68 494.42" stroke="#000" stroke-width="1.25" fill="none"/>
<text x="417.62" y="501.87" font-size="10.7" class="t">1.53</text>
<path d="M441.59 493.17V498.17M439.42 494.42L443.75 496.92M439.42 496.92L443.75 494.42" stroke="#000" stroke-width="1.25" fill="none"/>
<path d="M447.56 493.17V498.17M445.39 494.42L449.72 496.92M445.39 496.92L449.72 494.42" stroke="#000" stroke-width="1.25" fill="none"/>
<path d="M453.53 493.17V498.17M451.36 494.42L455.69 496.92M451.36 496.92L455.69 494.42" stroke="#000" stroke-width="1.25" fill="none"/>
<text x="470.64" y="501.87" font-size="10.7" class="t">1.30</text>
<path d="M494.60 493.17V498.17M492.43 494.42L496.76 496.92M492.43 496.92L496.76 494.42" stroke="#000" stroke-width="1.25" fill="none"/>
<path d="M500.57 493.17V498.17M498.40 494.42L502.73 496.92M498.40 496.92L502.73 494.42" stroke="#000" stroke-width="1.25" fill="none"/>
<path d="M506.54 493.17V498.17M504.37 494.42L508.70 496.92M504.37 496.92L508.70 494.42" stroke="#000" stroke-width="1.25" fill="none"/>
<text x="523.65" y="501.87" font-size="10.7" class="t">0.74</text>
<path d="M547.61 493.17V498.17M545.45 494.42L549.78 496.92M545.45 496.92L549.78 494.42" stroke="#000" stroke-width="1.25" fill="none"/>
<path d="M553.58 493.17V498.17M551.42 494.42L555.75 496.92M551.42 496.92L555.75 494.42" stroke="#000" stroke-width="1.25" fill="none"/>
<path d="M559.55 493.17V498.17M557.39 494.42L561.72 496.92M557.39 496.92L561.72 494.42" stroke="#000" stroke-width="1.25" fill="none"/>
<text x="576.66" y="501.87" font-size="10.7" class="t">0.55</text>
<path d="M600.62 493.17V498.17M598.46 494.42L602.79 496.92M598.46 496.92L602.79 494.42" stroke="#000" stroke-width="1.25" fill="none"/>
<text x="285.00" y="524.41" font-size="10.7" text-anchor="middle" fill="#000" stroke="#000" stroke-width="0.4" textLength="28.00" lengthAdjust="spacingAndGlyphs">71-80</text>
<text x="311.60" y="524.41" font-size="10.7" class="t">-0.15</text>
<text x="364.61" y="524.41" font-size="10.7" class="t">2.28</text>
<path d="M388.57 515.71V520.71M386.41 516.96L390.74 519.46M386.41 519.46L390.74 516.96" stroke="#000" stroke-width="1.25" fill="none"/>
<path d="M394.54 515.71V520.71M392.38 516.96L396.71 519.46M392.38 519.46L396.71 516.96" stroke="#000" stroke-width="1.25" fill="none"/>
<path d="M400.51 515.71V520.71M398.35 516.96L402.68 519.46M398.35 519.46L402.68 516.96" stroke="#000" stroke-width="1.25" fill="none"/>
<text x="417.62" y="524.41" font-size="10.7" class="t">2.63</text>
<path d="M441.59 515.71V520.71M439.42 516.96L443.75 519.46M439.42 519.46L443.75 516.96" stroke="#000" stroke-width="1.25" fill="none"/>
<path d="M447.56 515.71V520.71M445.39 516.96L449.72 519.46M445.39 519.46L449.72 516.96" stroke="#000" stroke-width="1.25" fill="none"/>
<path d="M453.53 515.71V520.71M451.36 516.96L455.69 519.46M451.36 519.46L455.69 516.96" stroke="#000" stroke-width="1.25" fill="none"/>
<text x="470.64" y="524.41" font-size="10.7" class="t">2.41</text>
<path d="M494.60 515.71V520.71M492.43 516.96L496.76 519.46M492.43 519.46L496.76 516.96" stroke="#000" stroke-width="1.25" fill="none"/>
<path d="M500.57 515.71V520.71M498.40 516.96L502.73 519.46M498.40 519.46L502.73 516.96" stroke="#000" stroke-width="1.25" fill="none"/>
<path d="M506.54 515.71V520.71M504.37 516.96L508.70 519.46M504.37 519.46L508.70 516.96" stroke="#000" stroke-width="1.25" fill="none"/>
<text x="523.65" y="524.41" font-size="10.7" class="t">1.85</text>
<path d="M547.61 515.71V520.71M545.45 516.96L549.78 519.46M545.45 519.46L549.78 516.96" stroke="#000" stroke-width="1.25" fill="none"/>
<path d="M553.58 515.71V520.71M551.42 516.96L555.75 519.46M551.42 519.46L555.75 516.96" stroke="#000" stroke-width="1.25" fill="none"/>
<path d="M559.55 515.71V520.71M557.39 516.96L561.72 519.46M557.39 519.46L561.72 516.96" stroke="#000" stroke-width="1.25" fill="none"/>
<text x="576.66" y="524.41" font-size="10.7" class="t">1.66</text>
<path d="M600.62 515.71V520.71M598.46 516.96L602.79 519.46M598.46 519.46L602.79 516.96" stroke="#000" stroke-width="1.25" fill="none"/>
<path d="M606.59 515.71V520.71M604.43 516.96L608.76 519.46M604.43 519.46L608.76 516.96" stroke="#000" stroke-width="1.25" fill="none"/>
<path d="M612.56 515.71V520.71M610.40 516.96L614.73 519.46M610.40 519.46L614.73 516.96" stroke="#000" stroke-width="1.25" fill="none"/>
<text x="629.67" y="524.41" font-size="10.7" class="t">1.11</text>
<path d="M653.64 515.71V520.71M651.47 516.96L655.80 519.46M651.47 519.46L655.80 516.96" stroke="#000" stroke-width="1.25" fill="none"/>
<path d="M659.61 515.71V520.71M657.44 516.96L661.77 519.46M657.44 519.46L661.77 516.96" stroke="#000" stroke-width="1.25" fill="none"/>
<path d="M665.58 515.71V520.71M663.41 516.96L667.74 519.46M663.41 519.46L667.74 516.96" stroke="#000" stroke-width="1.25" fill="none"/>
<text x="285.00" y="546.95" font-size="10.7" text-anchor="middle" fill="#000" stroke="#000" stroke-width="0.4" textLength="36.79" lengthAdjust="spacingAndGlyphs">over 81</text>
<text x="311.60" y="546.95" font-size="10.7" class="t">1.60</text>
<path d="M335.56 538.25V543.25M333.40 539.50L337.73 542.00M333.40 542.00L337.73 539.50" stroke="#000" stroke-width="1.25" fill="none"/>
<path d="M341.53 538.25V543.25M339.37 539.50L343.70 542.00M339.37 542.00L343.70 539.50" stroke="#000" stroke-width="1.25" fill="none"/>
<text x="364.61" y="546.95" font-size="10.7" class="t">4.03</text>
<path d="M388.57 538.25V543.25M386.41 539.50L390.74 542.00M386.41 542.00L390.74 539.50" stroke="#000" stroke-width="1.25" fill="none"/>
<path d="M394.54 538.25V543.25M392.38 539.50L396.71 542.00M392.38 542.00L396.71 539.50" stroke="#000" stroke-width="1.25" fill="none"/>
<path d="M400.51 538.25V543.25M398.35 539.50L402.68 542.00M398.35 542.00L402.68 539.50" stroke="#000" stroke-width="1.25" fill="none"/>
<text x="417.62" y="546.95" font-size="10.7" class="t">4.38</text>
<path d="M441.59 538.25V543.25M439.42 539.50L443.75 542.00M439.42 542.00L443.75 539.50" stroke="#000" stroke-width="1.25" fill="none"/>
<path d="M447.56 538.25V543.25M445.39 539.50L449.72 542.00M445.39 542.00L449.72 539.50" stroke="#000" stroke-width="1.25" fill="none"/>
<path d="M453.53 538.25V543.25M451.36 539.50L455.69 542.00M451.36 542.00L455.69 539.50" stroke="#000" stroke-width="1.25" fill="none"/>
<text x="470.64" y="546.95" font-size="10.7" class="t">4.15</text>
<path d="M494.60 538.25V543.25M492.43 539.50L496.76 542.00M492.43 542.00L496.76 539.50" stroke="#000" stroke-width="1.25" fill="none"/>
<path d="M500.57 538.25V543.25M498.40 539.50L502.73 542.00M498.40 542.00L502.73 539.50" stroke="#000" stroke-width="1.25" fill="none"/>
<path d="M506.54 538.25V543.25M504.37 539.50L508.70 542.00M504.37 542.00L508.70 539.50" stroke="#000" stroke-width="1.25" fill="none"/>
<text x="523.65" y="546.95" font-size="10.7" class="t">3.59</text>
<path d="M547.61 538.25V543.25M545.45 539.50L549.78 542.00M545.45 542.00L549.78 539.50" stroke="#000" stroke-width="1.25" fill="none"/>
<path d="M553.58 538.25V543.25M551.42 539.50L555.75 542.00M551.42 542.00L555.75 539.50" stroke="#000" stroke-width="1.25" fill="none"/>
<path d="M559.55 538.25V543.25M557.39 539.50L561.72 542.00M557.39 542.00L561.72 539.50" stroke="#000" stroke-width="1.25" fill="none"/>
<text x="576.66" y="546.95" font-size="10.7" class="t">3.40</text>
<path d="M600.62 538.25V543.25M598.46 539.50L602.79 542.00M598.46 542.00L602.79 539.50" stroke="#000" stroke-width="1.25" fill="none"/>
<path d="M606.59 538.25V543.25M604.43 539.50L608.76 542.00M604.43 542.00L608.76 539.50" stroke="#000" stroke-width="1.25" fill="none"/>
<path d="M612.56 538.25V543.25M610.40 539.50L614.73 542.00M610.40 542.00L614.73 539.50" stroke="#000" stroke-width="1.25" fill="none"/>
<text x="629.67" y="546.95" font-size="10.7" class="t">2.85</text>
<path d="M653.64 538.25V543.25M651.47 539.50L655.80 542.00M651.47 542.00L655.80 539.50" stroke="#000" stroke-width="1.25" fill="none"/>
<path d="M659.61 538.25V543.25M657.44 539.50L661.77 542.00M657.44 542.00L661.77 539.50" stroke="#000" stroke-width="1.25" fill="none"/>
<path d="M665.58 538.25V543.25M663.41 539.50L667.74 542.00M663.41 542.00L667.74 539.50" stroke="#000" stroke-width="1.25" fill="none"/>
<text x="682.69" y="546.95" font-size="10.7" class="t">1.75</text>
<path d="M706.65 538.25V543.25M704.48 539.50L708.81 542.00M704.48 542.00L708.81 539.50" stroke="#000" stroke-width="1.25" fill="none"/>
<path d="M712.62 538.25V543.25M710.45 539.50L714.78 542.00M710.45 542.00L714.78 539.50" stroke="#000" stroke-width="1.25" fill="none"/>
<path d="M718.59 538.25V543.25M716.42 539.50L720.75 542.00M716.42 542.00L720.75 539.50" stroke="#000" stroke-width="1.25" fill="none"/>
<rect x="259.00" y="661.30" width="475.30" height="206.88" fill="#dae3f3"/>
<rect x="259.00" y="661.30" width="475.30" height="25.60" fill="#859ede"/>
<rect x="259.00" y="661.30" width="50.80" height="206.88" fill="#859ede"/>
<rect x="259.00" y="686.40" width="51.30" height="1" fill="#fff" opacity="0.85"/>
<rect x="310.30" y="686.40" width="424.00" height="1" fill="#fff" opacity="0.85"/>
<rect x="259.00" y="709.06" width="51.30" height="1" fill="#fff" opacity="0.85"/>
<rect x="310.30" y="709.06" width="424.00" height="1" fill="#fff" opacity="0.8"/>
<rect x="259.00" y="731.72" width="51.30" height="1" fill="#fff" opacity="0.85"/>
<rect x="310.30" y="731.72" width="424.00" height="1" fill="#fff" opacity="0.8"/>
<rect x="259.00" y="754.38" width="51.30" height="1" fill="#fff" opacity="0.85"/>
<rect x="310.30" y="754.38" width="424.00" height="1" fill="#fff" opacity="0.8"/>
<rect x="259.00" y="777.04" width="51.30" height="1" fill="#fff" opacity="0.85"/>
<rect x="310.30" y="777.04" width="424.00" height="1" fill="#fff" opacity="0.8"/>
<rect x="259.00" y="799.70" width="51.30" height="1" fill="#fff" opacity="0.85"/>
<rect x="310.30" y="799.70" width="424.00" height="1" fill="#fff" opacity="0.8"/>
<rect x="259.00" y="822.36" width="51.30" height="1" fill="#fff" opacity="0.85"/>
<rect x="310.30" y="822.36" width="424.00" height="1" fill="#fff" opacity="0.8"/>
<rect x="259.00" y="845.02" width="51.30" height="1" fill="#fff" opacity="0.85"/>
<rect x="310.30" y="845.02" width="424.00" height="1" fill="#fff" opacity="0.8"/>
<rect x="309.80" y="661.30" width="1" height="25.60" fill="#fff" opacity="0.85"/>
<rect x="362.80" y="661.30" width="1" height="25.60" fill="#fff" opacity="0.85"/>
<rect x="362.80" y="686.90" width="1" height="181.28" fill="#fff" opacity="0.8"/>
<rect x="415.80" y="661.30" width="1" height="25.60" fill="#fff" opacity="0.85"/>
<rect x="415.80" y="686.90" width="1" height="181.28" fill="#fff" opacity="0.8"/>
<rect x="468.80" y="661.30" width="1" height="25.60" fill="#fff" opacity="0.85"/>
<rect x="468.80" y="686.90" width="1" height="181.28" fill="#fff" opacity="0.8"/>
<rect x="521.80" y="661.30" width="1" height="25.60" fill="#fff" opacity="0.85"/>
<rect x="521.80" y="686.90" width="1" height="181.28" fill="#fff" opacity="0.8"/>
<rect x="574.80" y="661.30" width="1" height="25.60" fill="#fff" opacity="0.85"/>
<rect x="574.80" y="686.90" width="1" height="181.28" fill="#fff" opacity="0.8"/>
<rect x="627.80" y="661.30" width="1" height="25.60" fill="#fff" opacity="0.85"/>
<rect x="627.80" y="686.90" width="1" height="181.28" fill="#fff" opacity="0.8"/>
<rect x="680.80" y="661.30" width="1" height="25.60" fill="#fff" opacity="0.85"/>
<rect x="680.80" y="686.90" width="1" height="181.28" fill="#fff" opacity="0.8"/>
<text x="336.80" y="677.90" font-size="10.7" text-anchor="middle" fill="#000" stroke="#000" stroke-width="0.4" textLength="21.92" lengthAdjust="spacingAndGlyphs">5-10</text>
<text x="389.80" y="677.90" font-size="10.7" text-anchor="middle" fill="#000" stroke="#000" stroke-width="0.4" textLength="28.00" lengthAdjust="spacingAndGlyphs">11-20</text>
<text x="442.80" y="677.90" font-size="10.7" text-anchor="middle" fill="#000" stroke="#000" stroke-width="0.4" textLength="28.00" lengthAdjust="spacingAndGlyphs">21-30</text>
<text x="495.80" y="677.90" font-size="10.7" text-anchor="middle" fill="#000" stroke="#000" stroke-width="0.4" textLength="28.00" lengthAdjust="spacingAndGlyphs">31-40</text>
<text x="548.80" y="677.90" font-size="10.7" text-anchor="middle" fill="#000" stroke="#000" stroke-width="0.4" textLength="28.00" lengthAdjust="spacingAndGlyphs">41-50</text>
<text x="601.80" y="677.90" font-size="10.7" text-anchor="middle" fill="#000" stroke="#000" stroke-width="0.4" textLength="28.00" lengthAdjust="spacingAndGlyphs">51-60</text>
<text x="654.80" y="677.90" font-size="10.7" text-anchor="middle" fill="#000" stroke="#000" stroke-width="0.4" textLength="28.00" lengthAdjust="spacingAndGlyphs">61-70</text>
<text x="707.80" y="677.90" font-size="10.7" text-anchor="middle" fill="#000" stroke="#000" stroke-width="0.4" textLength="28.00" lengthAdjust="spacingAndGlyphs">71-80</text>
<text x="284.65" y="671.30" font-size="9.3" text-anchor="middle" fill="#000" stroke="#000" stroke-width="0.4" textLength="42.95" lengthAdjust="spacingAndGlyphs">Age group</text>
<text x="284.65" y="683.30" font-size="9.3" text-anchor="middle" fill="#000" stroke="#000" stroke-width="0.4" textLength="28.59" lengthAdjust="spacingAndGlyphs">[years]</text>
<text x="284.65" y="702.53" font-size="10.7" text-anchor="middle" fill="#000" stroke="#000" stroke-width="0.4" textLength="28.00" lengthAdjust="spacingAndGlyphs">11-20</text>
<text x="310.90" y="702.53" font-size="10.7" class="t">-2.52</text>
<path d="M338.53 693.83V698.83M336.37 695.08L340.70 697.58M336.37 697.58L340.70 695.08" stroke="#000" stroke-width="1.25" fill="none"/>
<path d="M344.50 693.83V698.83M342.34 695.08L346.67 697.58M342.34 697.58L346.67 695.08" stroke="#000" stroke-width="1.25" fill="none"/>
<path d="M350.47 693.83V698.83M348.31 695.08L352.64 697.58M348.31 697.58L352.64 695.08" stroke="#000" stroke-width="1.25" fill="none"/>
<text x="284.65" y="725.19" font-size="10.7" text-anchor="middle" fill="#000" stroke="#000" stroke-width="0.4" textLength="28.00" lengthAdjust="spacingAndGlyphs">21-30</text>
<text x="310.90" y="725.19" font-size="10.7" class="t">-3.06</text>
<path d="M338.53 716.49V721.49M336.37 717.74L340.70 720.24M336.37 720.24L340.70 717.74" stroke="#000" stroke-width="1.25" fill="none"/>
<path d="M344.50 716.49V721.49M342.34 717.74L346.67 720.24M342.34 720.24L346.67 717.74" stroke="#000" stroke-width="1.25" fill="none"/>
<path d="M350.47 716.49V721.49M348.31 717.74L352.64 720.24M348.31 720.24L352.64 717.74" stroke="#000" stroke-width="1.25" fill="none"/>
<text x="364.00" y="725.19" font-size="10.7" class="t">-0.54</text>
<path d="M391.63 716.49V721.49M389.47 717.74L393.80 720.24M389.47 720.24L393.80 717.74" stroke="#000" stroke-width="1.25" fill="none"/>
<path d="M397.60 716.49V721.49M395.44 717.74L399.77 720.24M395.44 720.24L399.77 717.74" stroke="#000" stroke-width="1.25" fill="none"/>
<path d="M403.57 716.49V721.49M401.41 717.74L405.74 720.24M401.41 720.24L405.74 717.74" stroke="#000" stroke-width="1.25" fill="none"/>
<text x="284.65" y="747.85" font-size="10.7" text-anchor="middle" fill="#000" stroke="#000" stroke-width="0.4" textLength="28.00" lengthAdjust="spacingAndGlyphs">31-40</text>
<text x="310.90" y="747.85" font-size="10.7" class="t">-3.29</text>
<path d="M338.53 739.15V744.15M336.37 740.40L340.70 742.90M336.37 742.90L340.70 740.40" stroke="#000" stroke-width="1.25" fill="none"/>
<path d="M344.50 739.15V744.15M342.34 740.40L346.67 742.90M342.34 742.90L346.67 740.40" stroke="#000" stroke-width="1.25" fill="none"/>
<path d="M350.47 739.15V744.15M348.31 740.40L352.64 742.90M348.31 742.90L352.64 740.40" stroke="#000" stroke-width="1.25" fill="none"/>
<text x="364.00" y="747.85" font-size="10.7" class="t">-0.77</text>
<path d="M391.63 739.15V744.15M389.47 740.40L393.80 742.90M389.47 742.90L393.80 740.40" stroke="#000" stroke-width="1.25" fill="none"/>
<path d="M397.60 739.15V744.15M395.44 740.40L399.77 742.90M395.44 742.90L399.77 740.40" stroke="#000" stroke-width="1.25" fill="none"/>
<path d="M403.57 739.15V744.15M401.41 740.40L405.74 742.90M401.41 742.90L405.74 740.40" stroke="#000" stroke-width="1.25" fill="none"/>
<text x="417.10" y="747.85" font-size="10.7" class="t">-0.23</text>
<text x="284.65" y="770.51" font-size="10.7" text-anchor="middle" fill="#000" stroke="#000" stroke-width="0.4" textLength="28.00" lengthAdjust="spacingAndGlyphs">41-50</text>
<text x="310.90" y="770.51" font-size="10.7" class="t">-2.87</text>
<path d="M338.53 761.81V766.81M336.37 763.06L340.70 765.56M336.37 765.56L340.70 763.06" stroke="#000" stroke-width="1.25" fill="none"/>
<path d="M344.50 761.81V766.81M342.34 763.06L346.67 765.56M342.34 765.56L346.67 763.06" stroke="#000" stroke-width="1.25" fill="none"/>
<path d="M350.47 761.81V766.81M348.31 763.06L352.64 765.56M348.31 765.56L352.64 763.06" stroke="#000" stroke-width="1.25" fill="none"/>
<text x="364.00" y="770.51" font-size="10.7" class="t">-0.36</text>
<text x="417.10" y="770.51" font-size="10.7" class="t">0.19</text>
<text x="470.20" y="770.51" font-size="10.7" class="t">0.42</text>
<text x="284.65" y="793.17" font-size="10.7" text-anchor="middle" fill="#000" stroke="#000" stroke-width="0.4" textLength="28.00" lengthAdjust="spacingAndGlyphs">51-60</text>
<text x="310.90" y="793.17" font-size="10.7" class="t">-2.63</text>
<path d="M338.53 784.47V789.47M336.37 785.72L340.70 788.22M336.37 788.22L340.70 785.72" stroke="#000" stroke-width="1.25" fill="none"/>
<path d="M344.50 784.47V789.47M342.34 785.72L346.67 788.22M342.34 788.22L346.67 785.72" stroke="#000" stroke-width="1.25" fill="none"/>
<path d="M350.47 784.47V789.47M348.31 785.72L352.64 788.22M348.31 788.22L352.64 785.72" stroke="#000" stroke-width="1.25" fill="none"/>
<text x="364.00" y="793.17" font-size="10.7" class="t">-0.11</text>
<text x="417.10" y="793.17" font-size="10.7" class="t">0.43</text>
<path d="M441.06 784.47V789.47M438.90 785.72L443.23 788.22M438.90 788.22L443.23 785.72" stroke="#000" stroke-width="1.25" fill="none"/>
<path d="M447.03 784.47V789.47M444.87 785.72L449.20 788.22M444.87 788.22L449.20 785.72" stroke="#000" stroke-width="1.25" fill="none"/>
<text x="470.20" y="793.17" font-size="10.7" class="t">0.66</text>
<path d="M494.16 784.47V789.47M492.00 785.72L496.33 788.22M492.00 788.22L496.33 785.72" stroke="#000" stroke-width="1.25" fill="none"/>
<path d="M500.13 784.47V789.47M497.97 785.72L502.30 788.22M497.97 788.22L502.30 785.72" stroke="#000" stroke-width="1.25" fill="none"/>
<path d="M506.10 784.47V789.47M503.94 785.72L508.27 788.22M503.94 788.22L508.27 785.72" stroke="#000" stroke-width="1.25" fill="none"/>
<text x="523.30" y="793.17" font-size="10.7" class="t">0.24</text>
<path d="M547.26 784.47V789.47M545.10 785.72L549.43 788.22M545.10 788.22L549.43 785.72" stroke="#000" stroke-width="1.25" fill="none"/>
<text x="284.65" y="815.83" font-size="10.7" text-anchor="middle" fill="#000" stroke="#000" stroke-width="0.4" textLength="28.00" lengthAdjust="spacingAndGlyphs">61-70</text>
<text x="310.90" y="815.83" font-size="10.7" class="t">-1.99</text>
<path d="M338.53 807.13V812.13M336.37 808.38L340.70 810.88M336.37 810.88L340.70 808.38" stroke="#000" stroke-width="1.25" fill="none"/>
<path d="M344.50 807.13V812.13M342.34 808.38L346.67 810.88M342.34 810.88L346.67 808.38" stroke="#000" stroke-width="1.25" fill="none"/>
<path d="M350.47 807.13V812.13M348.31 808.38L352.64 810.88M348.31 810.88L352.64 808.38" stroke="#000" stroke-width="1.25" fill="none"/>
<text x="364.00" y="815.83" font-size="10.7" class="t">0.53</text>
<path d="M387.96 807.13V812.13M385.80 808.38L390.13 810.88M385.80 810.88L390.13 808.38" stroke="#000" stroke-width="1.25" fill="none"/>
<text x="417.10" y="815.83" font-size="10.7" class="t">1.07</text>
<path d="M441.06 807.13V812.13M438.90 808.38L443.23 810.88M438.90 810.88L443.23 808.38" stroke="#000" stroke-width="1.25" fill="none"/>
<path d="M447.03 807.13V812.13M444.87 808.38L449.20 810.88M444.87 810.88L449.20 808.38" stroke="#000" stroke-width="1.25" fill="none"/>
<path d="M453.00 807.13V812.13M450.84 808.38L455.17 810.88M450.84 810.88L455.17 808.38" stroke="#000" stroke-width="1.25" fill="none"/>
<text x="470.20" y="815.83" font-size="10.7" class="t">1.30</text>
<path d="M494.16 807.13V812.13M492.00 808.38L496.33 810.88M492.00 810.88L496.33 808.38" stroke="#000" stroke-width="1.25" fill="none"/>
<path d="M500.13 807.13V812.13M497.97 808.38L502.30 810.88M497.97 810.88L502.30 808.38" stroke="#000" stroke-width="1.25" fill="none"/>
<path d="M506.10 807.13V812.13M503.94 808.38L508.27 810.88M503.94 810.88L508.27 808.38" stroke="#000" stroke-width="1.25" fill="none"/>
<text x="523.30" y="815.83" font-size="10.7" class="t">0.88</text>
<path d="M547.26 807.13V812.13M545.10 808.38L549.43 810.88M545.10 810.88L549.43 808.38" stroke="#000" stroke-width="1.25" fill="none"/>
<path d="M553.23 807.13V812.13M551.07 808.38L555.40 810.88M551.07 810.88L555.40 808.38" stroke="#000" stroke-width="1.25" fill="none"/>
<path d="M559.20 807.13V812.13M557.04 808.38L561.37 810.88M557.04 810.88L561.37 808.38" stroke="#000" stroke-width="1.25" fill="none"/>
<text x="576.40" y="815.83" font-size="10.7" class="t">0.64</text>
<path d="M600.36 807.13V812.13M598.20 808.38L602.53 810.88M598.20 810.88L602.53 808.38" stroke="#000" stroke-width="1.25" fill="none"/>
<path d="M606.33 807.13V812.13M604.17 808.38L608.50 810.88M604.17 810.88L608.50 808.38" stroke="#000" stroke-width="1.25" fill="none"/>
<text x="284.65" y="838.49" font-size="10.7" text-anchor="middle" fill="#000" stroke="#000" stroke-width="0.4" textLength="28.00" lengthAdjust="spacingAndGlyphs">71-80</text>
<text x="310.90" y="838.49" font-size="10.7" class="t">-0.91</text>
<text x="364.00" y="838.49" font-size="10.7" class="t">1.60</text>
<path d="M387.96 829.79V834.79M385.80 831.04L390.13 833.54M385.80 833.54L390.13 831.04" stroke="#000" stroke-width="1.25" fill="none"/>
<path d="M393.93 829.79V834.79M391.77 831.04L396.10 833.54M391.77 833.54L396.10 831.04" stroke="#000" stroke-width="1.25" fill="none"/>
<path d="M399.90 829.79V834.79M397.74 831.04L402.07 833.54M397.74 833.54L402.07 831.04" stroke="#000" stroke-width="1.25" fill="none"/>
<text x="417.10" y="838.49" font-size="10.7" class="t">2.14</text>
<path d="M441.06 829.79V834.79M438.90 831.04L443.23 833.54M438.90 833.54L443.23 831.04" stroke="#000" stroke-width="1.25" fill="none"/>
<path d="M447.03 829.79V834.79M444.87 831.04L449.20 833.54M444.87 833.54L449.20 831.04" stroke="#000" stroke-width="1.25" fill="none"/>
<path d="M453.00 829.79V834.79M450.84 831.04L455.17 833.54M450.84 833.54L455.17 831.04" stroke="#000" stroke-width="1.25" fill="none"/>
<text x="470.20" y="838.49" font-size="10.7" class="t">2.38</text>
<path d="M494.16 829.79V834.79M492.00 831.04L496.33 833.54M492.00 833.54L496.33 831.04" stroke="#000" stroke-width="1.25" fill="none"/>
<path d="M500.13 829.79V834.79M497.97 831.04L502.30 833.54M497.97 833.54L502.30 831.04" stroke="#000" stroke-width="1.25" fill="none"/>
<path d="M506.10 829.79V834.79M503.94 831.04L508.27 833.54M503.94 833.54L508.27 831.04" stroke="#000" stroke-width="1.25" fill="none"/>
<text x="523.30" y="838.49" font-size="10.7" class="t">1.96</text>
<path d="M547.26 829.79V834.79M545.10 831.04L549.43 833.54M545.10 833.54L549.43 831.04" stroke="#000" stroke-width="1.25" fill="none"/>
<path d="M553.23 829.79V834.79M551.07 831.04L555.40 833.54M551.07 833.54L555.40 831.04" stroke="#000" stroke-width="1.25" fill="none"/>
<path d="M559.20 829.79V834.79M557.04 831.04L561.37 833.54M557.04 833.54L561.37 831.04" stroke="#000" stroke-width="1.25" fill="none"/>
<text x="576.40" y="838.49" font-size="10.7" class="t">1.71</text>
<path d="M600.36 829.79V834.79M598.20 831.04L602.53 833.54M598.20 833.54L602.53 831.04" stroke="#000" stroke-width="1.25" fill="none"/>
<path d="M606.33 829.79V834.79M604.17 831.04L608.50 833.54M604.17 833.54L608.50 831.04" stroke="#000" stroke-width="1.25" fill="none"/>
<path d="M612.30 829.79V834.79M610.14 831.04L614.47 833.54M610.14 833.54L614.47 831.04" stroke="#000" stroke-width="1.25" fill="none"/>
<text x="629.50" y="838.49" font-size="10.7" class="t">1.08</text>
<path d="M653.46 829.79V834.79M651.30 831.04L655.63 833.54M651.30 833.54L655.63 831.04" stroke="#000" stroke-width="1.25" fill="none"/>
<path d="M659.43 829.79V834.79M657.27 831.04L661.60 833.54M657.27 833.54L661.60 831.04" stroke="#000" stroke-width="1.25" fill="none"/>
<path d="M665.40 829.79V834.79M663.24 831.04L667.57 833.54M663.24 833.54L667.57 831.04" stroke="#000" stroke-width="1.25" fill="none"/>
<text x="284.65" y="861.15" font-size="10.7" text-anchor="middle" fill="#000" stroke="#000" stroke-width="0.4" textLength="36.79" lengthAdjust="spacingAndGlyphs">over 81</text>
<text x="310.90" y="861.15" font-size="10.7" class="t">0.30</text>
<text x="364.00" y="861.15" font-size="10.7" class="t">2.82</text>
<path d="M387.96 852.45V857.45M385.80 853.70L390.13 856.20M385.80 856.20L390.13 853.70" stroke="#000" stroke-width="1.25" fill="none"/>
<path d="M393.93 852.45V857.45M391.77 853.70L396.10 856.20M391.77 856.20L396.10 853.70" stroke="#000" stroke-width="1.25" fill="none"/>
<path d="M399.90 852.45V857.45M397.74 853.70L402.07 856.20M397.74 856.20L402.07 853.70" stroke="#000" stroke-width="1.25" fill="none"/>
<text x="417.10" y="861.15" font-size="10.7" class="t">3.36</text>
<path d="M441.06 852.45V857.45M438.90 853.70L443.23 856.20M438.90 856.20L443.23 853.70" stroke="#000" stroke-width="1.25" fill="none"/>
<path d="M447.03 852.45V857.45M444.87 853.70L449.20 856.20M444.87 856.20L449.20 853.70" stroke="#000" stroke-width="1.25" fill="none"/>
<path d="M453.00 852.45V857.45M450.84 853.70L455.17 856.20M450.84 856.20L455.17 853.70" stroke="#000" stroke-width="1.25" fill="none"/>
<text x="470.20" y="861.15" font-size="10.7" class="t">3.59</text>
<path d="M494.16 852.45V857.45M492.00 853.70L496.33 856.20M492.00 856.20L496.33 853.70" stroke="#000" stroke-width="1.25" fill="none"/>
<path d="M500.13 852.45V857.45M497.97 853.70L502.30 856.20M497.97 856.20L502.30 853.70" stroke="#000" stroke-width="1.25" fill="none"/>
<path d="M506.10 852.45V857.45M503.94 853.70L508.27 856.20M503.94 856.20L508.27 853.70" stroke="#000" stroke-width="1.25" fill="none"/>
<text x="523.30" y="861.15" font-size="10.7" class="t">3.18</text>
<path d="M547.26 852.45V857.45M545.10 853.70L549.43 856.20M545.10 856.20L549.43 853.70" stroke="#000" stroke-width="1.25" fill="none"/>
<path d="M553.23 852.45V857.45M551.07 853.70L555.40 856.20M551.07 856.20L555.40 853.70" stroke="#000" stroke-width="1.25" fill="none"/>
<path d="M559.20 852.45V857.45M557.04 853.70L561.37 856.20M557.04 856.20L561.37 853.70" stroke="#000" stroke-width="1.25" fill="none"/>
<text x="576.40" y="861.15" font-size="10.7" class="t">2.93</text>
<path d="M600.36 852.45V857.45M598.20 853.70L602.53 856.20M598.20 856.20L602.53 853.70" stroke="#000" stroke-width="1.25" fill="none"/>
<path d="M606.33 852.45V857.45M604.17 853.70L608.50 856.20M604.17 856.20L608.50 853.70" stroke="#000" stroke-width="1.25" fill="none"/>
<path d="M612.30 852.45V857.45M610.14 853.70L614.47 856.20M610.14 856.20L614.47 853.70" stroke="#000" stroke-width="1.25" fill="none"/>
<text x="629.50" y="861.15" font-size="10.7" class="t">2.29</text>
<path d="M653.46 852.45V857.45M651.30 853.70L655.63 856.20M651.30 856.20L655.63 853.70" stroke="#000" stroke-width="1.25" fill="none"/>
<path d="M659.43 852.45V857.45M657.27 853.70L661.60 856.20M657.27 856.20L661.60 853.70" stroke="#000" stroke-width="1.25" fill="none"/>
<path d="M665.40 852.45V857.45M663.24 853.70L667.57 856.20M663.24 856.20L667.57 853.70" stroke="#000" stroke-width="1.25" fill="none"/>
<text x="682.60" y="861.15" font-size="10.7" class="t">1.22</text>
<rect x="79.60" y="921.4" width="6.9" height="6.9" fill="#7f9bd9" stroke="#56608c" stroke-width="0.9"/>
<text x="89.10" y="928.90" font-size="10.7" text-anchor="start" fill="#262626" stroke="#262626" stroke-width="0.4" textLength="38.85" lengthAdjust="spacingAndGlyphs">2-10 [A]</text>
<rect x="136.60" y="921.4" width="6.9" height="6.9" fill="#7590cc" stroke="#56608c" stroke-width="0.9"/>
<text x="146.10" y="928.90" font-size="10.7" text-anchor="start" fill="#262626" stroke="#262626" stroke-width="0.4" textLength="44.52" lengthAdjust="spacingAndGlyphs">11-20 [B]</text>
<rect x="198.85" y="921.4" width="6.9" height="6.9" fill="#6c86c0" stroke="#56608c" stroke-width="0.9"/>
<text x="208.35" y="928.90" font-size="10.7" text-anchor="start" fill="#262626" stroke="#262626" stroke-width="0.4" textLength="44.39" lengthAdjust="spacingAndGlyphs">21-30 [C]</text>
<rect x="261.35" y="921.4" width="6.9" height="6.9" fill="#6a82b8" stroke="#56608c" stroke-width="0.9"/>
<text x="270.85" y="928.90" font-size="10.7" text-anchor="start" fill="#262626" stroke="#262626" stroke-width="0.4" textLength="45.38" lengthAdjust="spacingAndGlyphs">31-40 [D]</text>
<rect x="324.60" y="921.4" width="6.9" height="6.9" fill="#5c70a0" stroke="#56608c" stroke-width="0.9"/>
<text x="334.10" y="928.90" font-size="10.7" text-anchor="start" fill="#262626" stroke="#262626" stroke-width="0.4" textLength="43.85" lengthAdjust="spacingAndGlyphs">41-50 [E]</text>
<rect x="386.35" y="921.4" width="6.9" height="6.9" fill="#566998" stroke="#56608c" stroke-width="0.9"/>
<text x="395.85" y="928.90" font-size="10.7" text-anchor="start" fill="#262626" stroke="#262626" stroke-width="0.4" textLength="43.51" lengthAdjust="spacingAndGlyphs">51-60 [F]</text>
<rect x="448.10" y="921.4" width="6.9" height="6.9" fill="#506191" stroke="#56608c" stroke-width="0.9"/>
<text x="457.60" y="928.90" font-size="10.7" text-anchor="start" fill="#262626" stroke="#262626" stroke-width="0.4" textLength="45.56" lengthAdjust="spacingAndGlyphs">61-70 [G]</text>
<rect x="511.35" y="921.4" width="6.9" height="6.9" fill="#49587f" stroke="#56608c" stroke-width="0.9"/>
<text x="520.85" y="928.90" font-size="10.7" text-anchor="start" fill="#262626" stroke="#262626" stroke-width="0.4" textLength="45.47" lengthAdjust="spacingAndGlyphs">71-80 [H]</text>
<rect x="575.10" y="921.4" width="6.9" height="6.9" fill="#3e4a69" stroke="#56608c" stroke-width="0.9"/>
<text x="584.60" y="928.90" font-size="10.7" text-anchor="start" fill="#262626" stroke="#262626" stroke-width="0.4" textLength="78.54" lengthAdjust="spacingAndGlyphs">over 81 years [I]</text>
</svg>
</body></html>
